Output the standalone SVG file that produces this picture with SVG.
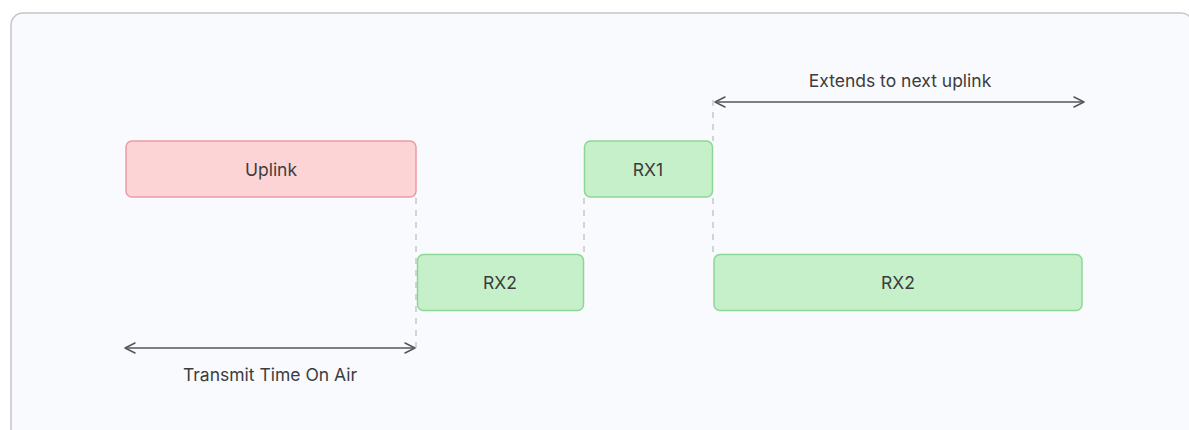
<svg xmlns="http://www.w3.org/2000/svg" width="1189" height="430" viewBox="0 0 1189 430">
  <defs>
    <style>
      .frame { fill: #f9fafd; stroke: #c4c5c8; stroke-width: 1.5; }
      .tx { fill: #fdd4d6; stroke: #eb9ca3; stroke-width: 1.5; }
      .rx { fill: #c6f0ca; stroke: #8dd698; stroke-width: 1.5; }
      .label { font-family: Inter, "Liberation Sans", sans-serif; font-size: 17.5px; fill: #3c3c3e; text-anchor: middle; dominant-baseline: central; }
      .guide { stroke: #b9bbbf; stroke-width: 1.2; stroke-dasharray: 6 6; fill: none; }
      .span { stroke: #555659; stroke-width: 1.5; fill: none; marker-start: url(#tip); marker-end: url(#tip); }
    </style>
    <marker id="tip" viewBox="0 0 12 12" refX="11" refY="6" markerWidth="12" markerHeight="12" markerUnits="userSpaceOnUse" orient="auto-start-reverse">
      <path d="M1 1 L11 6 L1 11" fill="none" stroke="#555659" stroke-width="1.5" stroke-linejoin="round" stroke-linecap="round"/>
    </marker>
  </defs>

  <!-- background card -->
  <rect class="frame" x="11" y="13" width="1182" height="430" rx="12"/>

  <!-- timing guides and spans -->
  <g id="connectors">
    <line class="guide" x1="416" y1="198" x2="416" y2="352"/>
    <line class="guide" x1="584" y1="198" x2="584" y2="254"/>
    <line class="guide" x1="713" y1="100" x2="713" y2="141"/>
    <line class="guide" x1="713" y1="198" x2="713" y2="254"/>
    <line class="span" x1="125" y1="348" x2="415" y2="348"/>
    <line class="span" x1="715" y1="102" x2="1084" y2="102"/>
  </g>

  <g id="uplink">
    <rect class="tx" x="126" y="141" width="290" height="56" rx="6"/>
    <text class="label" x="271" y="169">Uplink</text>
  </g>

  <g id="rx2-first">
    <rect class="rx" x="417.5" y="254.5" width="166" height="56" rx="6"/>
    <text class="label" x="500" y="282">RX2</text>
  </g>

  <g id="rx1">
    <rect class="rx" x="584.5" y="141" width="128" height="56" rx="6"/>
    <text class="label" x="648" y="169">RX1</text>
  </g>

  <g id="rx2-second">
    <rect class="rx" x="714" y="254.5" width="368" height="56" rx="6"/>
    <text class="label" x="898" y="282">RX2</text>
  </g>

  <g id="span-labels">
    <text class="label" x="270" y="374">Transmit Time On Air</text>
    <text class="label" x="900" y="80">Extends to next uplink</text>
  </g>
</svg>
